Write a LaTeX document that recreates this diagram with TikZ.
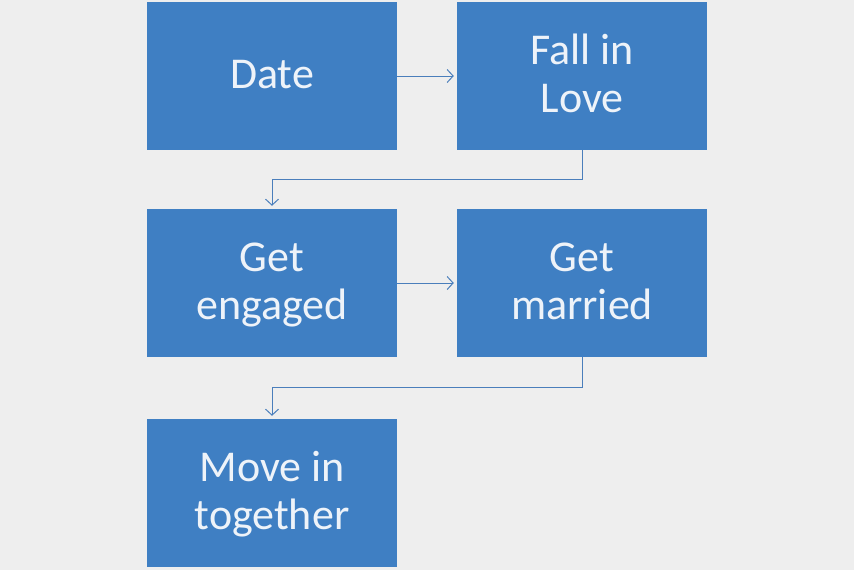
\documentclass[tikz,border=0pt]{standalone}
\usepackage{fontspec}
\setmainfont{Carlito}
\usepackage{xcolor}
\usetikzlibrary{positioning,calc,arrows.meta}

\definecolor{bgGray}{HTML}{EEEEEE}
\definecolor{boxBlue}{HTML}{3F7FC3}
\definecolor{lineBlue}{HTML}{4A7EBB}
\definecolor{textWhite}{HTML}{EEF3F9}

% fixed line height so all labels sit alike
\newcommand{\stageline}{\rule[-12pt]{0pt}{48pt}}

\tikzset{
  stagebox/.style={rectangle, fill=boxBlue, minimum width=250pt, minimum height=148pt,
    inner sep=0pt, align=center, text=textWhite, font=\fontsize{44}{48}\selectfont},
  flow/.style={draw=lineBlue, line width=1pt, shorten >=3pt, -{Straight Barb[length=6pt,width=13pt]}}
}

\begin{document}
\begin{tikzpicture}[x=1pt, y=-1pt]
  % Background
  \fill[bgGray] (0,0) rectangle (854,570);
  \useasboundingbox (0,0) rectangle (854,570);

  % Stages
  \node[stagebox] (date)    at (272, 76) {\stageline Date};
  \node[stagebox] (love)    at (582, 76) {\stageline Fall in\\\stageline Love};
  \node[stagebox] (engaged) at (272,283) {\stageline Get\\\stageline engaged};
  \node[stagebox] (married) at (582,283) {\stageline Get\\\stageline married};
  \node[stagebox] (move)    at (272,493) {\stageline Move in\\\stageline together};

  % Connectors
  \draw[flow] (date.east) -- (love.west);
  \draw[flow] (love.south) -- ++(0,29) -| (engaged.north);
  \draw[flow] (engaged.east) -- (married.west);
  \draw[flow] (married.south) -- ++(0,30) -| (move.north);
\end{tikzpicture}
\end{document}
